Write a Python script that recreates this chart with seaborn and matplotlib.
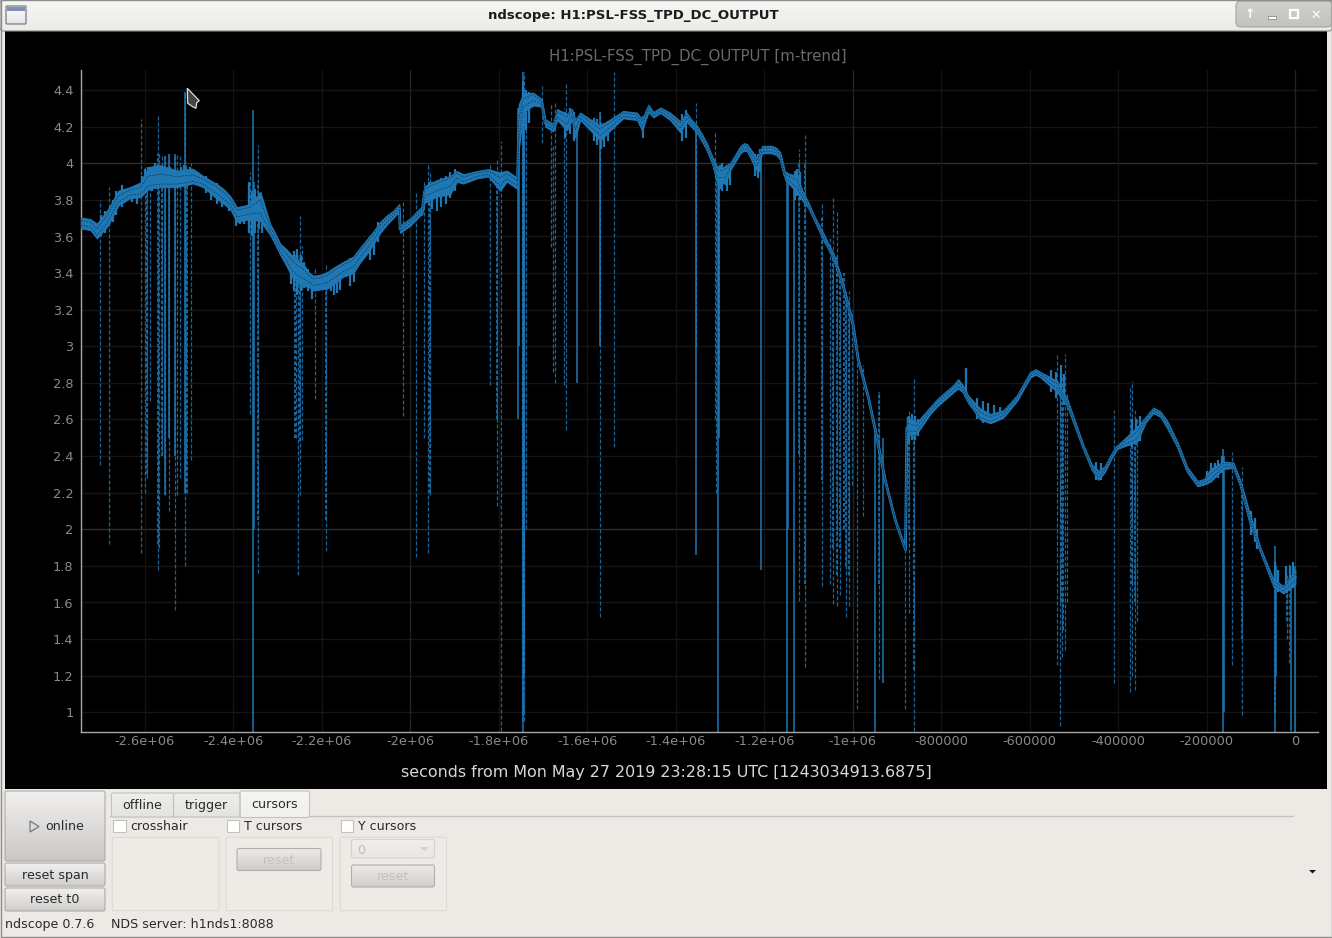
import numpy as np
import matplotlib
matplotlib.use("Agg")
import matplotlib.pyplot as plt
from matplotlib.patches import Rectangle, FancyBboxPatch, Polygon
import seaborn as sns

# ---------- data (time in kiloseconds, output in counts) ----------
t_k = [-2744,-2723,-2708,-2683,-2660,-2633,-2610,-2592,-2565,-2527,
       -2491,-2468,-2437,-2407,-2392,-2362,-2339,-2317,-2294,-2265,
       -2242,-2219,-2188,-2152,-2129,-2098,-2068,-2039,-2025,-2023,
       -2000,-1978,-1973,-1968,-1940,-1910,-1895,-1880,-1849,-1824,
       -1797,-1782,-1758,-1755,-1745,-1722,-1703,-1695,-1677,-1668,
       -1646,-1635,-1627,-1616,-1571,-1548,-1519,-1488,-1476,-1462,
       -1451,-1435,-1413,-1390,-1376,-1352,-1330,-1307,-1288,-1277,
       -1254,-1239,-1217,-1205,-1183,-1164,-1153,-1126,-1112,-1089,
       -1067,-1044,-1022,-999,-988,-965,-949,-927,-904,-881,
       -878,-855,-825,-796,-762,-739,-712,-689,-660,-628,
       -599,-576,-538,-515,-479,-445,-402,-357,-321,-289,
       -244,-221,-192,-163,-140,-124,-102,-79,-50,-27,
       0]
center = [3.674,3.665,3.62,3.70,3.80,3.84,3.845,3.89,3.90,3.90,
          3.91,3.90,3.856,3.79,3.73,3.746,3.765,3.64,3.53,3.44,
          3.40,3.355,3.375,3.43,3.46,3.555,3.65,3.72,3.757,3.64,
          3.68,3.735,3.74,3.845,3.878,3.91,3.938,3.91,3.938,3.948,
          3.90,3.93,3.89,4.17,4.33,4.366,4.33,4.22,4.195,4.266,
          4.24,4.277,4.22,4.257,4.175,4.21,4.266,4.257,4.22,4.30,
          4.266,4.29,4.257,4.21,4.257,4.185,4.09,3.945,3.956,3.983,
          4.075,4.085,4.00,4.075,4.075,4.04,3.93,3.89,3.82,3.71,
          3.60,3.49,3.33,3.11,2.93,2.72,2.54,2.27,2.05,1.89,
          2.555,2.545,2.65,2.72,2.79,2.71,2.62,2.60,2.63,2.72,
          2.845,2.845,2.78,2.69,2.45,2.29,2.45,2.51,2.65,2.57,
          2.325,2.25,2.28,2.35,2.35,2.25,2.05,1.89,1.71,1.67,
          1.74]
band_up = [.03,.03,.05,.05,.05,.03,.05,.09,.09,.06,
           .06,.03,.03,.03,.03,.03,.08,.03,.03,.05,
           .05,.03,.03,.03,.03,.03,.03,.02,.02,.02,
           .02,.02,.02,.03,.03,.02,.02,.03,.02,.02,
           .05,.03,.03,.15,.05,.02,.02,.02,.02,.03,
           .03,.02,.02,.02,.03,.03,.02,.02,.02,.02,
           .015,.015,.02,.02,.02,.02,.02,.04,.03,.02,
           .02,.02,.03,.02,.02,.02,.02,.04,.02,.01,
           .02,.02,.015,.01,.01,.01,.01,.005,.005,.005,
           .06,.04,.02,.02,.03,.02,.04,.03,.02,.015,
           .015,.015,.03,.02,.01,.03,.01,.05,.015,.02,
           .015,.015,.05,.02,.015,.015,.03,.01,.02,.02,
           .04]
band_dn = [.03,.03,.03,.04,.03,.03,.03,.03,.03,.03,
           .02,.03,.05,.04,.05,.05,.08,.03,.03,.07,
           .07,.05,.06,.05,.06,.05,.03,.02,.02,.02,
           .02,.02,.02,.06,.06,.08,.04,.02,.02,.02,
           .05,.03,.03,.10,.05,.05,.02,.02,.02,.03,
           .06,.04,.08,.02,.05,.03,.02,.02,.04,.02,
           .015,.015,.02,.04,.03,.02,.02,.05,.07,.02,
           .02,.02,.04,.02,.02,.02,.02,.05,.03,.01,
           .02,.02,.015,.01,.01,.01,.01,.005,.005,.005,
           .04,.02,.02,.02,.02,.02,.02,.02,.02,.015,
           .015,.015,.03,.02,.01,.02,.01,.03,.015,.02,
           .015,.015,.02,.02,.015,.015,.03,.01,.02,.02,
           .04]

# further readings along the smooth stretches of the trace
extra_t = [-2420,-2305,-2280,-2253,-2230,-2205,-2170,-2113,-2083,-2053,
           -1365,-1341,-1318,-1296,-1246,-1173,-1100,-1078,-1055,-1033,
           -1010,-810,-772,-752,-587,-460,-430,-415,-338,-305,
           -266,-206]
extra_c = [3.825,3.585,3.49,3.415,3.375,3.36,3.405,3.51,3.60,3.69,
           4.22,4.14,4.02,3.945,4.09,4.065,3.77,3.655,3.545,3.415,
           3.22,2.69,2.77,2.77,2.86,2.34,2.33,2.40,2.60,2.63,
           2.46,2.26]
extra_up = [.03,.03,.04,.05,.03,.03,.03,.03,.03,.025,
            .02,.02,.02,.03,.02,.02,.015,.015,.015,.015,
            .01,.02,.02,.02,.015,.015,.015,.01,.015,.015,
            .015,.015]
extra_dn = [.05,.03,.05,.07,.05,.05,.06,.05,.04,.025,
            .02,.02,.02,.05,.02,.02,.015,.015,.015,.015,
            .01,.02,.02,.02,.015,.015,.015,.01,.015,.015,
            .015,.015]

# short noise strokes that roughen the edge of the trace
fuzz_t = [-2700,-2690,-2672,-2664,-2652,-2628,-2618,-2606,-2600,-2592,
          -2584,-2576,-2570,-2560,-2552,-2544,-2530,-2518,-2512,-2505,
          -2497,-2482,-2462,-2450,-2436,-2425,-2410,-2395,-2385,-2375,
          -2365,-2358,-2350,-2342,-2335,-2270,-2262,-2255,-2248,-2240,
          -2232,-2222,-2180,-2172,-2165,-2158,-2145,-2136,-2128,-2090,
          -2082,-2072,-1958,-1950,-1940,-1930,-1920,-1910,-1900,-1745,
          -1738,-1732,-1650,-1640,-1630,-1585,-1578,-1570,-1562,-1554,
          -1474,-1378,-1385,-1300,-1295,-1285,-1278,-1220,-1215,-1210,
          -1130,-1125,-1120,-872,-866,-860,-852,-745,-720,-705,
          -695,-682,-668,-551,-540,-530,-522,-450,-440,-368,
          -360,-352,-200,-190,-182,-174,-166,-100,-92,-86,
          -45,-40,-20,-12,-5]
fuzz_low = [3.60,3.62,3.68,3.72,3.76,3.79,3.78,3.82,3.84,3.85,
            3.85,3.86,3.86,3.87,3.87,3.87,3.88,3.87,3.88,3.88,
            3.88,3.88,3.84,3.80,3.78,3.76,3.74,3.66,3.67,3.67,
            3.62,3.60,3.62,3.64,3.62,3.34,3.30,3.28,3.30,3.32,
            3.30,3.26,3.30,3.28,3.29,3.31,3.38,3.33,3.35,3.47,
            3.50,3.57,3.77,3.75,3.74,3.76,3.78,3.81,3.85,4.10,
            4.18,4.22,4.14,4.16,4.12,4.12,4.10,4.08,4.09,4.12,
            4.14,4.14,4.12,3.86,3.85,3.85,3.88,3.93,3.92,3.95,
            3.80,3.82,3.80,2.47,2.49,2.49,2.51,2.72,2.60,2.58,
            2.58,2.58,2.60,2.75,2.72,2.72,2.68,2.27,2.27,2.45,
            2.46,2.48,2.25,2.26,2.28,2.28,2.31,1.97,1.93,1.89,
            1.68,1.66,1.65,1.67,1.68]
fuzz_top = [3.72,3.74,3.80,3.85,3.88,3.86,3.87,3.93,3.97,3.98,
            3.97,4.00,3.99,3.98,3.97,3.98,3.96,3.98,3.99,3.97,
            3.98,3.95,3.93,3.90,3.89,3.86,3.82,3.76,3.75,3.76,
            3.90,3.85,3.86,3.84,3.80,3.50,3.52,3.53,3.50,3.46,
            3.42,3.38,3.40,3.41,3.42,3.44,3.46,3.48,3.47,3.60,
            3.62,3.68,3.90,3.90,3.90,3.92,3.93,3.95,3.97,4.45,
            4.40,4.39,4.28,4.30,4.28,4.25,4.24,4.22,4.22,4.23,
            4.26,4.29,4.27,3.99,4.00,3.99,3.99,4.05,4.05,4.08,
            3.96,3.97,3.95,2.62,2.63,2.62,2.60,2.88,2.72,2.70,
            2.69,2.68,2.67,2.87,2.86,2.90,2.85,2.37,2.36,2.60,
            2.60,2.62,2.32,2.36,2.36,2.38,2.40,2.10,2.06,2.00,
            1.82,1.78,1.80,1.80,1.82]

solid_t   = [-2555,-2545,-2532,-2509,-2355,-2353,-1757,-1755,-1746,-1744,-1624,-1571,-1354,-1305,-1303,-1208,-1149,-1147,-1132,-950,-163,-161,-45,-43,-932,-9,0]
solid_low = [2.19,2.5,2.4,2.2,0.895,2.0,2.6,3.0,0.89,1.2,2.8,3.0,1.86,0.89,2.5,1.78,0.89,2.0,0.89,0.89,0.89,1.0,0.89,1.2,1.16,0.9,0.89]
solid_top = [4.04,4.05,4.05,4.39,4.29,3.9,4.3,4.3,4.5,4.4,4.25,4.28,4.2,3.95,3.9,4.07,3.95,3.9,3.9,2.54,2.44,2.4,1.91,1.8,2.5,1.7,1.8]

dash_t   = [-2702,-2680,-2608,-2599,-2594,-2589,-2571,-2568,-2562,-2555,-2545,-2532,-2527,-2520,-2509,-2506,-2495,
            -2363,-2345,-2258,-2254,-2250,-2245,-2216,-2191,-2017,-1988,-1970,-1959,-1956,-1821,-1804,-1796,
            -1748,-1742,-1738,-1702,-1683,-1678,-1673,-1653,-1649,-1571,-1540,-1355,-1312,-1310,
            -1122,-1109,-1070,-1051,-1044,-1036,-1029,-1016,-1008,-1001,
            -990,-977,-941,-882,-874,-862,
            -538,-532,-528,-521,-515,-409,-373,-370,-362,-358,
            -142,-120,-18,-14]
dash_low = [2.35,1.92,1.87,2.2,2.28,2.7,1.78,1.9,2.41,2.19,2.1,1.56,2.19,2.28,1.8,2.2,2.38,
            2.63,1.76,2.5,1.75,2.19,2.49,2.71,1.88,2.62,1.85,2.5,1.87,2.19,2.79,2.13,0.9,
            0.95,0.95,2.0,4.11,3.54,2.86,2.8,2.79,2.54,1.52,2.45,3.0,2.6,2.2,
            1.61,1.25,1.69,1.7,1.59,1.58,1.64,1.52,1.58,2.24,
            1.02,2.07,1.18,1.02,1.54,0.9,
            1.26,0.925,1.3,1.34,1.6,1.16,1.11,1.2,1.12,1.5,
            1.26,0.985,1.4,1.27]
dash_top = [3.8,3.87,4.24,3.98,3.95,3.95,4.27,4.05,4.04,4.04,4.05,4.05,4.05,4.04,4.39,4.0,4.0,
            3.95,4.1,3.5,3.5,3.71,3.55,3.42,3.45,3.8,3.85,3.9,4.0,3.95,4.0,4.02,4.12,
            4.42,4.5,4.4,4.42,4.33,4.1,4.34,4.3,4.44,4.28,4.5,4.33,4.17,4.0,
            4.08,4.16,3.79,3.6,3.81,3.74,3.4,3.3,3.3,3.2,
            3.0,2.9,2.75,2.1,2.65,2.83,
            2.95,2.85,2.85,2.96,2.75,2.65,2.78,2.81,2.65,2.6,
            2.42,2.34,1.75,1.81]

# thick braided bundles of dashed excursions
bundle_t = [-2594,-2571,-2562,-2505,-2344,-2260,-2250,-2190,-1956,-1804,-1744,-1303,
            -1122,-1109,-1070,-1044,-1036,-1029,-1021,-1016,-1008,-941,-874,-862,
            -530,-524,-368,-362,-120,-45,-18]
bundle_low = [2.3,1.92,2.4,2.2,2.05,2.5,2.48,2.05,2.2,2.6,1.0,2.9,
              2.41,1.7,2.27,1.9,1.75,1.9,2.0,1.8,1.75,1.7,2.0,1.23,
              1.6,1.45,1.7,1.6,1.4,1.0,1.5]
bundle_top = [3.95,4.05,3.9,3.95,3.9,3.5,3.5,3.4,3.85,3.95,4.2,3.9,
              4.0,4.0,3.7,3.5,3.5,3.4,3.4,3.3,3.25,2.75,2.6,2.55,
              2.75,2.75,2.6,2.55,2.2,1.75,1.7]

y_ticks = [1,1.2,1.4,1.6,1.8,2,2.2,2.4,2.6,2.8,3,3.2,3.4,3.6,3.8,4,4.2,4.4]
y_labels = ["1","1.2","1.4","1.6","1.8","2","2.2","2.4","2.6","2.8","3","3.2","3.4","3.6","3.8","4","4.2","4.4"]
x_ticks = [-2.6e6,-2.4e6,-2.2e6,-2e6,-1.8e6,-1.6e6,-1.4e6,-1.2e6,-1e6,-8e5,-6e5,-4e5,-2e5,0]
x_labels = ["-2.6e+06","-2.4e+06","-2.2e+06","-2e+06","-1.8e+06","-1.6e+06","-1.4e+06","-1.2e+06","-1e+06",
            "-800000","-600000","-400000","-200000","0"]
strong_y = [2, 4]
strong_x = [-2e6, -1e6, 0]

assert len(t_k) == len(center) == len(band_up) == len(band_dn)
assert len(extra_t) == len(extra_c) == len(extra_up) == len(extra_dn)
assert len(fuzz_t) == len(fuzz_low) == len(fuzz_top)
assert len(solid_t) == len(solid_low) == len(solid_top)
assert len(dash_t) == len(dash_low) == len(dash_top)
assert len(bundle_t) == len(bundle_low) == len(bundle_top)

# ---------- theme ----------
sns.set_theme(style="dark")
plt.rcParams['font.family'] = ['DejaVu Sans']
W, H = 1332, 938
BLUE = "#1f77b4"
WIN = "#edeae5"
fig = plt.figure(figsize=(W/100, H/100), dpi=100, facecolor=WIN)

# ---------- window chrome on a pixel-coordinates canvas ----------
ui = fig.add_axes([0, 0, 1, 1], zorder=0)
ui.set_axis_off()

def grad(x0, y0, x1, y1, top, bottom, edge="#acaba8", r=2.0, lw=0.8):
    box = FancyBboxPatch((x0+r, y0+r), x1-x0-2*r, y1-y0-2*r, boxstyle=f"round,pad={r},rounding_size={r}",
                         fc="none", ec=edge, lw=lw, zorder=3)
    ui.add_patch(box)
    c0, c1 = np.array(matplotlib.colors.to_rgb(top)), np.array(matplotlib.colors.to_rgb(bottom))
    g = np.linspace(0, 1, 64)[:, None, None]
    img = c0[None, None, :]*(1-g) + c1[None, None, :]*g
    im = ui.imshow(img, extent=(x0, x1, y1, y0), aspect="auto", zorder=2, interpolation="bilinear")
    im.set_clip_path(FancyBboxPatch((x0+r, y0+r), x1-x0-2*r, y1-y0-2*r,
                                    boxstyle=f"round,pad={r},rounding_size={r}", transform=ui.transData))

def label(x, y, s, color="#2a2a2a", size=9.1, ha="center", **kw):
    ui.text(x, y, s, color=color, fontsize=size, ha=ha, va="center", **kw)

# title bar
grad(0, 0, 1332, 31, "#f6f6f4", "#ecebe8", edge="#8c8c8a", r=3)
label(633.5, 15.5, "ndscope: H1:PSL-FSS_TPD_DC_OUTPUT", color="#1c1c1c", size=9.5, fontweight="bold", zorder=5)
grad(6, 6, 26, 24, "#fbfbfb", "#e6e6ea", edge="#6b6b72", r=1)
ui.add_patch(Rectangle((7, 7), 18, 4, fc="#7f8fb5", ec="none", zorder=4))
grad(1236, 1, 1332, 27, "#d0d0cd", "#c2c2bf", edge="#a5a5a2", r=5)
ui.text(1250, 15, "\u2191", color="white", fontsize=9, ha="center", va="center", fontweight="bold", zorder=5)
ui.add_patch(Rectangle((1268, 16), 8, 3, fc="white", ec="#8a8a8a", lw=0.6, zorder=5))
ui.add_patch(Rectangle((1289.5, 10.5), 8, 8, fc="none", ec="white", lw=1.6, zorder=5))
ui.text(1316, 15, "\u2715", color="white", fontsize=9, ha="center", va="center", fontweight="bold", zorder=5)

# black plot area
ui.add_patch(Rectangle((5, 31), 1322, 758, fc="black", ec="none", zorder=1))

# controls
grad(5, 791, 105, 861, "#f1f0ee", "#c9c8c6")
ui.add_patch(Polygon([(30, 821), (30, 832), (39, 826.5)], closed=True, fc="none", ec="#7a7a7a", lw=0.9, zorder=5))
label(65, 826.5, "online", zorder=5)
grad(5, 863, 105, 886, "#f1f0ee", "#cfcecc")
label(55, 875, "reset span", zorder=5)
grad(5, 888, 105, 911, "#f1f0ee", "#cfcecc")
label(55, 899.5, "reset t0", zorder=5)

ui.plot([110, 1293], [816.5, 816.5], color="#c4c2be", lw=1, zorder=2)
grad(111.5, 793, 173.5, 817, "#efeeeb", "#e5e3df", edge="#c4c2be", r=1.5)
label(142, 805.5, "offline", zorder=5)
grad(173.5, 793, 240, 817, "#efeeeb", "#e5e3df", edge="#c4c2be", r=1.5)
label(206, 805.5, "trigger", zorder=5)
grad(240, 791, 309.5, 817.5, "#f7f6f4", "#f1f0ed", edge="#c4c2be", r=1.5)
label(274.5, 804.5, "cursors", zorder=5)

for cx, txt in [(113, "crosshair"), (226.5, "T cursors"), (340.5, "Y cursors")]:
    ui.add_patch(Rectangle((cx, 820), 12.5, 12.5, fc="white", ec="#c4c2be", lw=0.8, zorder=3))
    label(cx+17, 826.5, txt, ha="left", zorder=5)
for fx0, fx1 in [(112.3, 219), (226.3, 332.5), (340.3, 446.5)]:
    ui.add_patch(FancyBboxPatch((fx0+1, 838.3), fx1-fx0-2, 71.4, boxstyle="round,pad=1,rounding_size=1",
                                fc="#eeebe6", ec="#dcdad5", lw=0.8, zorder=2))
grad(237, 848.5, 321, 870.5, "#ecebe9", "#cfcecc", edge="#b0afac")
label(279, 860, "reset", color="#c2c1bf", zorder=5)
grad(351.5, 839.5, 434.5, 858, "#f1f0ee", "#e9e7e3", edge="#d5d3cf")
label(357, 850, "0", color="#c0bfbc", ha="left", zorder=5)
ui.add_patch(Polygon([(420, 847), (429, 847), (424.5, 851)], closed=True, fc="#d2d1ce", ec="none", zorder=5))
grad(351.5, 865, 434.5, 887, "#ecebe9", "#cfcecc", edge="#b0afac")
label(393, 877, "reset", color="#c2c1bf", zorder=5)
ui.add_patch(Polygon([(1309, 870), (1316, 870), (1312.5, 873.5)], closed=True, fc="#111111", ec="none", zorder=5))
label(5, 924.5, "ndscope 0.7.6", ha="left", zorder=5)
label(111, 924.5, "NDS server: h1nds1:8088", ha="left", zorder=5)
ui.add_patch(Rectangle((0.5, 0.5), 1331, 937, fc="none", ec="#8c8c8a", lw=1, zorder=6))
ui.set_xlim(0, W)
ui.set_ylim(H, 0)

# ---------- the plot ----------
x_px = 4.425e-4          # pixels per second
ax_l, ax_r, ax_t, ax_b = 80.5, 1318.0, 70.0, 732.0
ax = fig.add_axes([ax_l/W, 1-ax_b/H, (ax_r-ax_l)/W, (ax_b-ax_t)/H], zorder=2)
ax.set_facecolor("black")
ax.patch.set_alpha(0)

all_t = np.array(t_k + extra_t)
all_c = np.array(center + extra_c)
all_u = np.array(band_up + extra_up)
all_d = np.array(band_dn + extra_dn)
order = np.argsort(all_t, kind="stable")
t = all_t[order]*1e3
c = all_c[order]
bu = all_u[order]
bd = all_d[order]

for v in y_ticks:
    ax.axhline(v, color="#2e2e2e" if v in strong_y else "#151515", lw=1, zorder=1)
for v in x_ticks:
    ax.axvline(v, color="#232323" if v in strong_x else "#131313", lw=1, zorder=1)

ax.vlines(np.array(bundle_t)*1e3, bundle_low, bundle_top, colors="#1a6499", lw=1.5, linestyles=[(0, (1.7, 1.0))], zorder=2)
ax.vlines(np.array(dash_t)*1e3, dash_low, dash_top, colors="#1a6499", lw=0.9, linestyles=[(0, (3.2, 1.6))], zorder=2)
ax.vlines(np.array(solid_t)*1e3, solid_low, solid_top, colors=BLUE, lw=1.1, zorder=2)
ax.fill_between(t, c-bd, c+bu, color=BLUE, lw=0.8, zorder=3)
ax.vlines(np.array(fuzz_t)*1e3, fuzz_low, fuzz_top, colors=BLUE, lw=1.6, zorder=3)
sns.lineplot(x=t, y=c, ax=ax, color=BLUE, lw=2.0, zorder=4, estimator=None, sort=False, solid_joinstyle="round")
sns.lineplot(x=t, y=c+bu*0.45, ax=ax, color="#0c2a40", lw=0.5, ls=(0, (2, 2)), zorder=5, estimator=None, sort=False)
sns.lineplot(x=t, y=c-bd*0.45, ax=ax, color="#0c2a40", lw=0.5, ls=(0, (2, 2)), zorder=5, estimator=None, sort=False)

ax.set_xlim((ax_l-1295.3)/x_px, (ax_r-1295.3)/x_px)
y_px = 183.0
y_low = 1-(ax_b-712.3)/y_px
ax.set_ylim(y_low, y_low+(ax_b-ax_t)/y_px)
ax.set_xticks(x_ticks)
ax.set_xticklabels(x_labels)
ax.set_yticks(y_ticks)
ax.set_yticklabels(y_labels)
ax.tick_params(axis="both", colors="#8a8a8a", labelsize=9.3, length=0)
ax.tick_params(axis="x", pad=2.5)
ax.tick_params(axis="y", pad=5)
ax.grid(False)
for s in ["top", "right"]:
    ax.spines[s].set_visible(False)
for s in ["left", "bottom"]:
    ax.spines[s].set_color("#a8a8a8")
    ax.spines[s].set_linewidth(1)
ax.set_xlabel("")
ax.set_ylabel("")

# plot title and x axis caption
fig.text(698/W, 1-56.5/H, "H1:PSL-FSS_TPD_DC_OUTPUT [m-trend]", color="#6a6a6a", fontsize=10.85, ha="center", va="center", zorder=3)
fig.text(666/W, 1-772.5/H, "seconds from Mon May 27 2019 23:28:15 UTC [1243034913.6875]", color="#d8d8d8", fontsize=11.4, ha="center", va="center", zorder=3)

# mouse pointer
fig.add_artist(Polygon([(187.3/W, 1-88.3/H), (199.3/W, 1-100.7/H), (196.7/W, 1-102.7/H), (196/W, 1-108.3/H),
                        (192.7/W, 1-106.7/H), (187.7/W, 1-103.3/H)], closed=True, fc="#444444", ec="#dddddd", lw=0.9,
                       transform=fig.transFigure, zorder=7))

fig.savefig("out.png", dpi=100, facecolor=WIN)
